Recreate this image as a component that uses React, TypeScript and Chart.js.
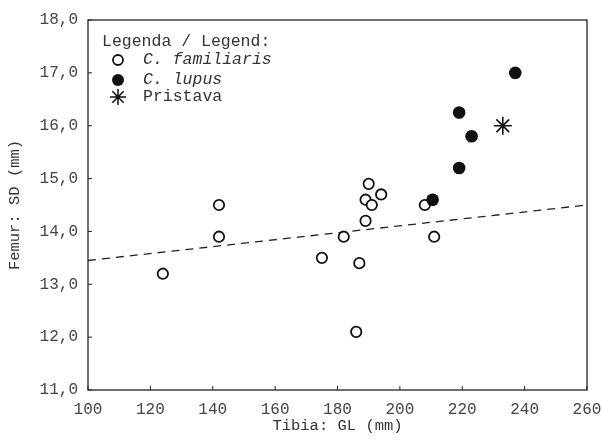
import React, { useEffect, useRef } from "react";
import { Chart, registerables } from "chart.js";

Chart.register(...registerables);

const familiarisX = [124, 142, 142, 175, 182, 186, 187, 189, 189, 190, 191, 194, 208, 211];
const familiarisY = [13.2, 14.5, 13.9, 13.5, 13.9, 12.1, 13.4, 14.2, 14.6, 14.9, 14.5, 14.7, 14.5, 13.9];
const lupusX = [210.5, 219, 219, 223, 237];
const lupusY = [14.6, 15.2, 16.25, 15.8, 17.0];
const pristavaX = [233];
const pristavaY = [16.0];
const trendX = [100, 260];
const trendY = [13.45, 14.5];

const xTicks = [100, 120, 140, 160, 180, 200, 220, 240, 260];
const yTicks = [11, 12, 13, 14, 15, 16, 17, 18];

const legendTitle = "Legenda / Legend:";
const seriesLabels = ["C. familiaris", "C. lupus", "Pristava"];
const seriesItalic = [true, true, false];

const FONT = "'Liberation Mono', 'DejaVu Sans Mono', monospace";

const pts = (xs: number[], ys: number[]) => xs.map((x, i) => ({ x, y: ys[i] }));

const framePlugin = {
  id: "frame",
  afterDatasetsDraw(chart: any) {
    const { ctx, chartArea } = chart;
    const { left, right, top, bottom } = chartArea;
    const xs = chart.scales.x;
    const ys = chart.scales.y;
    ctx.save();
    ctx.strokeStyle = "#222";
    ctx.lineWidth = 1.3;
    ctx.strokeRect(left, top, right - left, bottom - top);
    ctx.lineWidth = 1;
    ctx.beginPath();
    xTicks.forEach((v) => {
      const px = xs.getPixelForValue(v);
      ctx.moveTo(px, bottom);
      ctx.lineTo(px, bottom - 4);
    });
    yTicks.forEach((v) => {
      const py = ys.getPixelForValue(v);
      ctx.moveTo(left, py);
      ctx.lineTo(left + 4, py);
    });
    ctx.stroke();

    // legend
    const lx = left + 14;
    const ty = top + 22;
    ctx.fillStyle = "#333";
    ctx.textBaseline = "middle";
    ctx.textAlign = "left";
    ctx.font = `16.5px ${FONT}`;
    ctx.fillText(legendTitle, lx, ty);
    const mx = left + 30;
    const tx = left + 55;
    const rows = [ty + 18, ty + 38, ty + 55];
    seriesLabels.forEach((lab, i) => {
      const y = rows[i];
      ctx.font = `${seriesItalic[i] ? "italic " : ""}16.5px ${FONT}`;
      ctx.fillStyle = "#333";
      ctx.fillText(lab, tx, y);
      ctx.strokeStyle = "#111";
      ctx.fillStyle = "#111";
      if (i === 0) {
        ctx.lineWidth = 1.8;
        ctx.beginPath();
        ctx.arc(mx, y, 5, 0, Math.PI * 2);
        ctx.fillStyle = "#fff";
        ctx.fill();
        ctx.stroke();
      } else if (i === 1) {
        ctx.beginPath();
        ctx.arc(mx, y, 6, 0, Math.PI * 2);
        ctx.fill();
      } else {
        ctx.lineWidth = 1.5;
        ctx.beginPath();
        const r = 8;
        for (let k = 0; k < 4; k++) {
          const a = (k * Math.PI) / 4;
          ctx.moveTo(mx - r * Math.cos(a), y - r * Math.sin(a));
          ctx.lineTo(mx + r * Math.cos(a), y + r * Math.sin(a));
        }
        ctx.stroke();
      }
    });
    ctx.restore();
  },
};

export default function App() {
  const ref = useRef<HTMLCanvasElement | null>(null);
  useEffect(() => {
    if (!ref.current) return;
    const chart = new Chart(ref.current, {
      type: "scatter",
      data: {
        datasets: [
          {
            label: seriesLabels[1],
            data: pts(lupusX, lupusY),
            pointRadius: 6.3,
            pointBackgroundColor: "#111",
            pointBorderColor: "#111",
            pointBorderWidth: 0,
            order: 0,
          },
          {
            label: seriesLabels[2],
            data: pts(pristavaX, pristavaY),
            pointStyle: "star",
            pointRadius: 9,
            pointBorderColor: "#111",
            pointBorderWidth: 1.6,
            order: 0,
          },
          {
            label: seriesLabels[0],
            data: pts(familiarisX, familiarisY),
            pointRadius: 5.2,
            pointBackgroundColor: "#fff",
            pointBorderColor: "#111",
            pointBorderWidth: 1.8,
            order: 1,
          },
          {
            type: "line",
            label: "trend",
            data: pts(trendX, trendY),
            borderColor: "#222",
            borderWidth: 1.3,
            borderDash: [8, 6],
            pointRadius: 0,
            fill: false,
            order: 2,
          } as any,
        ],
      },
      options: {
        animation: false,
        responsive: false,
        events: [],
        layout: { padding: { top: 20, right: 16, left: 0, bottom: 0 } },
        plugins: { legend: { display: false }, tooltip: { enabled: false } },
        scales: {
          x: {
            type: "linear",
            min: 100,
            max: 260,
            afterBuildTicks: (s: any) => {
              s.ticks = xTicks.map((v) => ({ value: v }));
            },
            afterFit: (s: any) => {
              s.height = 52;
              s.paddingLeft = 0;
              s.paddingRight = 0;
            },
            grid: { display: false, drawTicks: false },
            border: { display: false },
            ticks: {
              padding: 10,
              color: "#444",
              font: { family: FONT, size: 16 },
              maxRotation: 0,
              autoSkip: false,
            },
            title: {
              display: true,
              text: "Tibia: GL (mm)",
              color: "#333",
              font: { family: FONT, size: 15.5 },
              padding: { top: 0, bottom: 7 },
            },
          },
          y: {
            type: "linear",
            min: 11,
            max: 18,
            afterBuildTicks: (s: any) => {
              s.ticks = yTicks.map((v) => ({ value: v }));
            },
            afterFit: (s: any) => {
              s.width = 88;
              s.paddingTop = 0;
              s.paddingBottom = 0;
            },
            grid: { display: false, drawTicks: false },
            border: { display: false },
            ticks: {
              padding: 10,
              color: "#444",
              font: { family: FONT, size: 16 },
              autoSkip: false,
              callback: (v: any) => Number(v).toFixed(1).replace(".", ","),
            },
            title: {
              display: true,
              text: "Femur: SD (mm)",
              color: "#333",
              font: { family: FONT, size: 15.5 },
              padding: { top: 6, bottom: 0 },
            },
          },
        },
      },
      plugins: [framePlugin],
    });
    return () => chart.destroy();
  }, []);
  return (
    <div style={{ position: "absolute", left: 0, top: 0, width: 603, height: 442, background: "#fff" }}>
      <canvas ref={ref} width={603} height={442} />
    </div>
  );
}
